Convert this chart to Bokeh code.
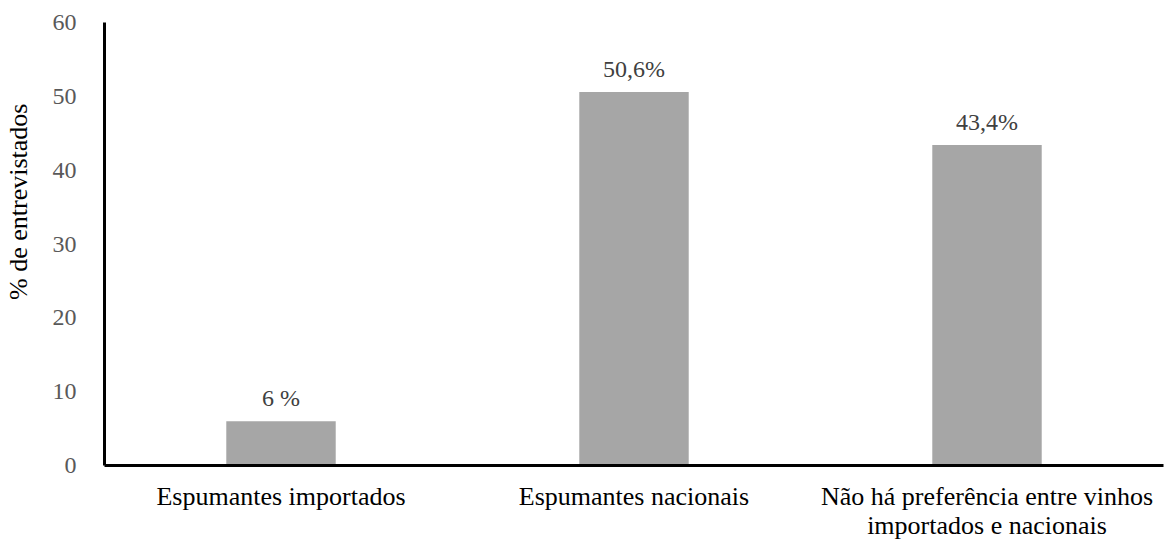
from bokeh.plotting import figure
from bokeh.models import ColumnDataSource, FixedTicker, Range1d, FactorRange
from bokeh.core.properties import value
from bokeh.embed import file_html
from bokeh.resources import INLINE

categories = [
    "Espumantes importados",
    "Espumantes nacionais",
    "Não há preferência entre vinhos\nimportados e nacionais",
]
percentages = [6.0, 50.6, 43.4]
value_labels = ["6 %", "50,6%", "43,4%"]
y_ticks = [0, 10, 20, 30, 40, 50, 60]
y_title = "% de entrevistados"

SERIF = "Liberation Serif"

source = ColumnDataSource(dict(cat=categories, pct=percentages, lbl=value_labels))

p = figure(
    x_range=FactorRange(*categories, range_padding=0),
    y_range=Range1d(0, 60),
    width=1171,
    height=542,
    output_backend="svg",
    toolbar_location=None,
    min_border_left=103,
    min_border_right=8,
    min_border_top=22,
    min_border_bottom=70,
)

p.vbar(x="cat", top="pct", width=0.31, source=source,
       fill_color="#A6A6A6", line_color=None)

p.text(x="cat", y="pct", text="lbl", source=source,
       text_font=value(SERIF), text_font_size="24px", text_color="#404040",
       text_align="center", text_baseline="alphabetic", y_offset=-23)

p.outline_line_color = None
p.xgrid.grid_line_color = None
p.ygrid.grid_line_color = None

p.yaxis.ticker = FixedTicker(ticks=y_ticks)
# leading no-break spaces lift the rotated title above the axis midpoint
p.yaxis.axis_label = "\u00a0" * 13 + y_title
p.yaxis.axis_label_text_font = SERIF
p.yaxis.axis_label_text_font_style = "normal"
p.yaxis.axis_label_text_font_size = "26px"
p.yaxis.axis_label_text_color = "#000000"
p.yaxis.axis_label_standoff = 17
p.yaxis.major_label_text_font = SERIF
p.yaxis.major_label_text_font_size = "24px"
p.yaxis.major_label_text_color = "#595959"
p.yaxis.major_label_standoff = 22

p.xaxis.major_label_text_font = SERIF
p.xaxis.major_label_text_font_size = "26px"
p.xaxis.major_label_text_line_height = 1.0
p.xaxis.major_label_text_color = "#000000"
p.xaxis.major_label_standoff = 10

for ax in (p.xaxis, p.yaxis):
    ax.axis_line_color = "#000000"
    ax.axis_line_width = 3
    ax.major_tick_line_color = None
    ax.minor_tick_line_color = None

open("out.html", "w").write(file_html(p, INLINE))
